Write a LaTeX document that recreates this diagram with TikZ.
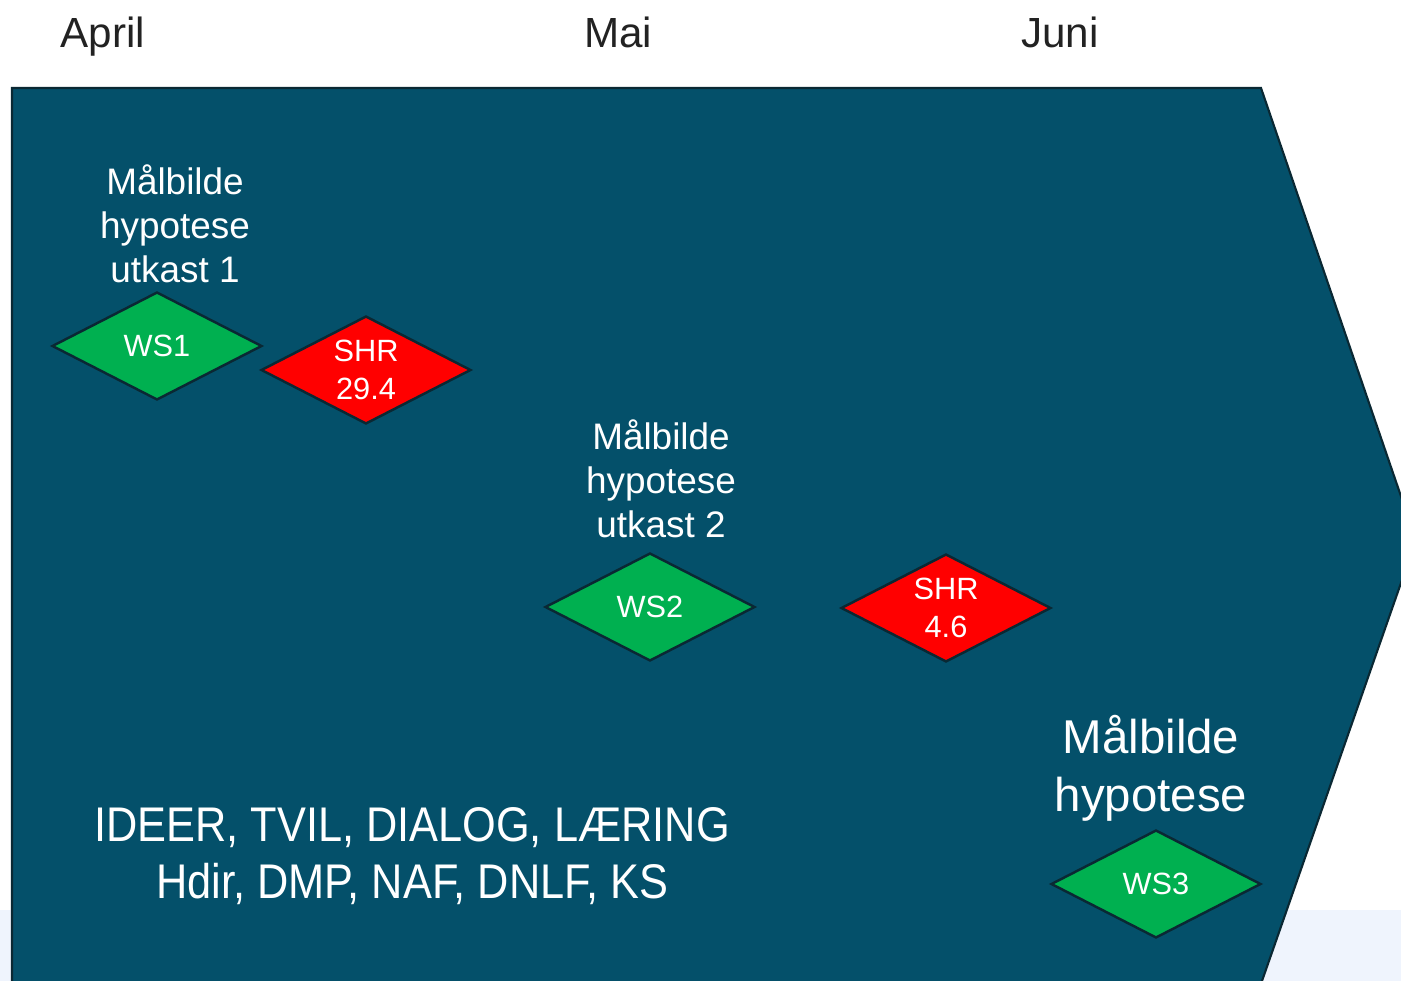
\documentclass[tikz,border=0pt]{standalone}
\usepackage{fontspec}
\setmainfont{Liberation Sans}
\newfontfamily\narrowsans{Liberation Sans}[FakeStretch=0.89]
\usetikzlibrary{shapes.geometric}
\definecolor{petrol}{HTML}{04506A}
\definecolor{petrolline}{HTML}{0A2833}
\definecolor{wsgreen}{HTML}{00B050}
\definecolor{shrred}{HTML}{FF0000}
\definecolor{bandblue}{HTML}{EFF4FD}
\definecolor{monthgray}{HTML}{222222}

\begin{document}
\begin{tikzpicture}[x=0.02cm,y=-0.02cm,
  month/.style={anchor=base,text=monthgray,font=\fontsize{24}{28}\selectfont},
  goal/.style={text=white,align=center,font=\fontsize{21}{25.2}\selectfont},
  milestone/.style={diamond,shape aspect=1.94,draw=petrolline,line width=1.4pt,inner sep=0pt,
    minimum width=4.2cm,minimum height=2.16cm,text=white,align=center,font=\fontsize{17.5}{21.5}\selectfont},
  ws/.style={milestone,fill=wsgreen},
  shr/.style={milestone,fill=shrred}]
\clip (0,0) rectangle (1401,981);
\fill[bandblue] (0,910) rectangle (1401,981);
\draw[fill=petrol,draw=petrolline,line width=1.2pt]
  (12,88) -- (1261,88) -- (1416,540) -- (1255,1001) -- (12,1001) -- cycle;

\node[month] (april) at (103,47) {April};
\node[month] (mai) at (618,47) {Mai};
\node[month] (juni) at (1060,47) {Juni};

\node[goal] (goal1) at (175,224) {Målbilde\\hypotese\\utkast 1};
\node[goal] (goal2) at (661,479) {Målbilde\\hypotese\\utkast 2};
\node[goal,font=\fontsize{27}{33}\selectfont] (goal3) at (1151,768) {Målbilde\\hypotese};

\node[ws] (ws1) at (157,346) {WS1};
\node[shr] (shr1) at (366,370) {SHR\\29.4};
\node[ws] (ws2) at (650,607) {WS2};
\node[shr] (shr2) at (946,608) {SHR\\4.6};
\node[ws] (ws3) at (1156,884) {WS3};

\node[text=white,align=center,font=\narrowsans\fontsize{27.7}{32.3}\selectfont] (themes) at (412,856)
  {IDEER, TVIL, DIALOG, LÆRING\\Hdir, DMP, NAF, DNLF, KS};
\end{tikzpicture}
\end{document}
